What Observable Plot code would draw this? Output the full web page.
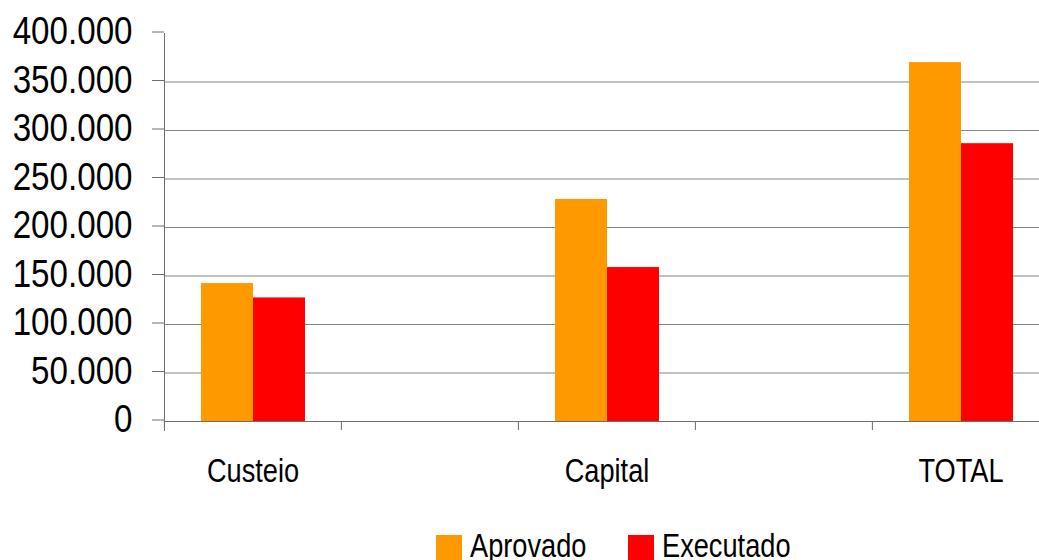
<!DOCTYPE html>
<html><head><meta charset="utf-8">
<script src="https://cdn.jsdelivr.net/npm/d3@7"></script>
<script src="https://cdn.jsdelivr.net/npm/@observablehq/plot@0.6"></script>
<style>
body{margin:0;background:#fff;overflow:hidden;}
#chart{position:relative;width:1039px;height:560px;font-family:"Liberation Sans",Arial,sans-serif;}
#legend{position:absolute;left:0;top:528px;width:1039px;height:40px;font-size:34px;line-height:34px;color:#000;}
.item{position:absolute;top:0;display:flex;align-items:flex-start;}
.sw{width:26px;height:26px;margin-top:7px;margin-right:8px;flex:none;}
.lbl{display:inline-block;transform:scaleX(0.8);transform-origin:0 50%;white-space:nowrap;}
</style></head><body><div id="chart"></div>
<script>
const categories = ["Custeio", "Capital", "TOTAL"];
const slots = ["Custeio", " ", "Capital", "  ", "TOTAL"];
const series = ["Aprovado", "Executado"];
const aprovado = [142200, 228900, 370000];
const executado = [127400, 158700, 286400];
const colors = ["#FF9900", "#FF0000"];
const yTicks = [0, 50000, 100000, 150000, 200000, 250000, 300000, 350000, 400000];
const gridTicks = [50000, 100000, 150000, 200000, 250000, 300000, 350000];

const data = categories.flatMap((c, i) => [
  {category: c, series: series[0], value: aprovado[i]},
  {category: c, series: series[1], value: executado[i]}
]);
const gridData = slots.flatMap(s => gridTicks.map(v => ({slot: s, value: v})));
const baseData = slots.map(s => ({slot: s, value: 0}));
const fmt = d => d3.format(",")(d).replace(/,/g, ".");
const font = '"Liberation Sans",Arial,sans-serif';

const W = 1039, mL = 163, mR = -10;
const half = (W - mR - mL) / slots.length / 2;

const plot = Plot.plot({
  width: W, height: 520,
  marginLeft: mL, marginRight: mR, marginTop: 33, marginBottom: 99,
  style: {fontFamily: font, background: "#fff", color: "#000", overflow: "visible"},
  fx: {domain: slots, padding: 0, label: null, axis: null},
  x: {domain: series, paddingInner: 0, paddingOuter: 0.67, axis: null},
  y: {domain: [0, 400000], label: null},
  color: {domain: series, range: colors},
  marks: [
    Plot.ruleY(gridData, {fx: "slot", y: "value", stroke: "#858585", strokeWidth: 1.2}),
    Plot.barY(data, {fx: "category", x: "series", y: "value", fill: "series"}),
    Plot.ruleY(baseData, {fx: "slot", y: "value", stroke: "#6e6e6e"}),
    Plot.frame({anchor: "left", facet: "super", stroke: "#6e6e6e", insetBottom: -9}),
    Plot.axisY(yTicks, {tickSize: 12, tickPadding: 20, tickFormat: fmt, fontSize: 39, dy: -1.5, stroke: "#6e6e6e", fill: "#000", label: null}),
    Plot.axisFx({anchor: "bottom", tickSize: 0, tickPadding: 36, fontSize: 34, fill: "#000", tickFormat: d => d.trim(), label: null}),
    Plot.axisFx({anchor: "bottom", tickSize: 9, tickFormat: () => "", dx: -half, stroke: "#6e6e6e", label: null})
  ]
});

// condense the text horizontally around its own anchor (narrow sans look)
plot.querySelectorAll("text").forEach(t => {
  const holder = t.closest("[font-size]");
  const size = parseFloat(holder ? holder.getAttribute("font-size") : 34);
  const k = size > 36 ? 0.85 : 0.8;
  const tr = t.getAttribute("transform") || "";
  const xa = t.getAttribute("x");
  const x = xa && /^-?[\d.]+$/.test(xa) ? +xa : 0;
  t.setAttribute("transform", `${tr} translate(${x},0) scale(${k},1) translate(${-x},0)`);
});

const chart = document.getElementById("chart");
chart.appendChild(plot);

const legend = document.createElement("div");
legend.id = "legend";
const legendLeft = [436, 628];
series.forEach((s, i) => {
  const item = document.createElement("div");
  item.className = "item";
  item.style.left = legendLeft[i] + "px";
  const sw = document.createElement("div");
  sw.className = "sw";
  sw.style.background = colors[i];
  const t = document.createElement("span");
  t.className = "lbl";
  t.textContent = s;
  item.appendChild(sw); item.appendChild(t);
  legend.appendChild(item);
});
chart.appendChild(legend);
</script></body></html>
